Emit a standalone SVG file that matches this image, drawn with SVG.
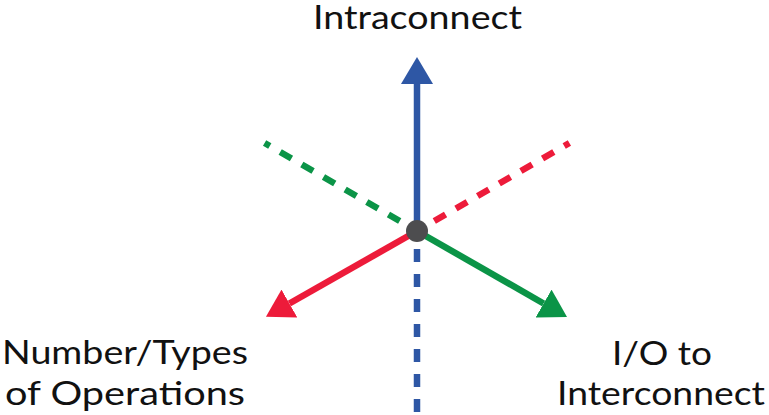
<svg xmlns="http://www.w3.org/2000/svg" width="769" height="415" viewBox="0 0 769 415">
  <style>
    .lbl { font-family: Lato, "Open Sans", "Liberation Sans", sans-serif; font-size: 33px; fill: #111; text-anchor: middle; }
    .axis { stroke-width: 6.5; fill: none; }
    .dash { stroke-dasharray: 13 12; }
    .blue { stroke: #2E57A5; }
    .red { stroke: #ED1B3A; }
    .green { stroke: #0B9447; }
  </style>
  <defs>
    <marker id="headBlue" viewBox="0 0 27 32" markerUnits="userSpaceOnUse" markerWidth="27" markerHeight="32" refX="0" refY="16" orient="auto">
      <path d="M0,0 L27,16 L0,32 Z" fill="#2E57A5"/>
    </marker>
    <marker id="headRed" viewBox="0 0 27 32" markerUnits="userSpaceOnUse" markerWidth="27" markerHeight="32" refX="0" refY="16" orient="auto">
      <path d="M0,0 L27,16 L0,32 Z" fill="#ED1B3A"/>
    </marker>
    <marker id="headGreen" viewBox="0 0 27 32" markerUnits="userSpaceOnUse" markerWidth="27" markerHeight="32" refX="0" refY="16" orient="auto">
      <path d="M0,0 L27,16 L0,32 Z" fill="#0B9447"/>
    </marker>
  </defs>
  <rect width="769" height="415" fill="#fff"/>

  <g id="connectors">
    <!-- dashed negative directions -->
    <line class="axis dash blue" x1="417" y1="249" x2="417" y2="420"/>
    <line class="axis dash green" x1="399.7" y1="221" x2="264.6" y2="143"/>
    <line class="axis dash red" x1="434.3" y1="221" x2="569.4" y2="143"/>
    <!-- solid axes with arrowheads -->
    <line class="axis blue" x1="417" y1="231" x2="417" y2="84" marker-end="url(#headBlue)"/>
    <line class="axis red" x1="417" y1="231" x2="289.4" y2="303.5" marker-end="url(#headRed)"/>
    <line class="axis green" x1="417" y1="231" x2="543.6" y2="303.5" marker-end="url(#headGreen)"/>
  </g>

  <g id="origin">
    <circle cx="417" cy="231" r="11" fill="#4D4D4F"/>
  </g>

  <g id="intraconnect">
    <text class="lbl" x="417.5" y="29" textLength="209" lengthAdjust="spacingAndGlyphs">Intraconnect</text>
  </g>
  <g id="operations">
    <text class="lbl" x="125" y="364" textLength="246" lengthAdjust="spacingAndGlyphs">Number/Types</text>
    <text class="lbl" x="125" y="405" textLength="240" lengthAdjust="spacingAndGlyphs">of Operations</text>
  </g>
  <g id="io-interconnect">
    <text class="lbl" x="662" y="365" textLength="100" lengthAdjust="spacingAndGlyphs">I/O to</text>
    <text class="lbl" x="661" y="405" textLength="208" lengthAdjust="spacingAndGlyphs">Interconnect</text>
  </g>
</svg>
